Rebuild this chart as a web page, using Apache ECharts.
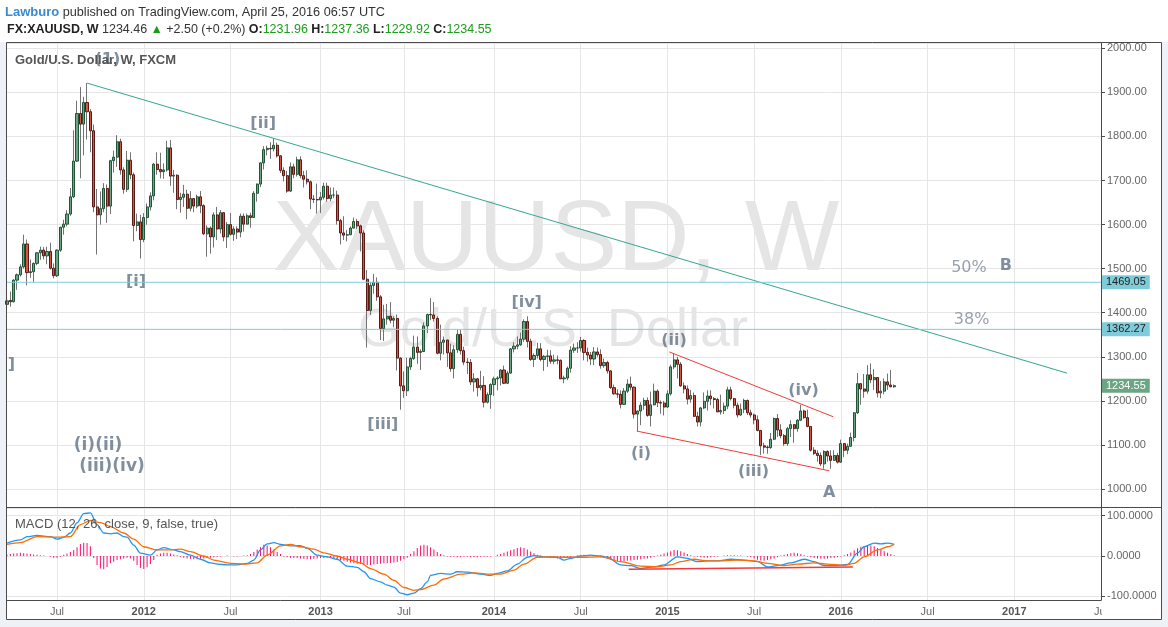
<!DOCTYPE html>
<html><head><meta charset="utf-8">
<script src="https://cdn.jsdelivr.net/npm/echarts@6/dist/echarts.min.js"></script>
<style>html,body{margin:0;padding:0;background:#eef1f5;}#c{width:1168px;height:627px;}</style>
</head><body><div id="c"></div>
<script>
// ---------- data (weekly FX:XAUUSD, weeks starting Monday 2011-03-21) ----------
const firstWeek = '2011-03-21';
const weekCount = 329; // axis runs to July 2017

const opens = [
1419,1428,1425,1474,1486,1504,1556,1491,1493,1512,
1536,1542,1529,1539,1501,1484,1542,1594,1601,1624,
1663,1744,1852,1828,1877,1856,1813,1640,1622,1636,
1682,1642,1745,1753,1788,1724,1680,1746,1713,1598,
1606,1566,1616,1640,1665,1737,1725,1720,1724,1774,
1710,1712,1657,1662,1669,1637,1659,1642,1663,1643,
1579,1592,1572,1622,1590,1627,1572,1600,1578,1590,
1583,1619,1601,1620,1616,1671,1692,1740,1770,1773,
1772,1780,1756,1723,1711,1676,1731,1714,1747,1711,
1703,1697,1658,1657,1656,1662,1687,1659,1667,1667,
1609,1581,1576,1577,1592,1607,1597,1581,1476,1405,
1462,1469,1436,1364,1386,1392,1383,1387,1297,1234,
1223,1277,1296,1322,1310,1312,1370,1396,1395,1387,
1308,1333,1338,1309,1273,1316,1351,1314,1288,1287,
1243,1250,1230,1235,1197,1214,1237,1250,1252,1270,
1240,1263,1318,1324,1327,1340,1380,1335,1294,1303,
1318,1294,1301,1302,1290,1293,1292,1250,1252,1274,
1315,1320,1320,1337,1310,1304,1295,1311,1305,1280,
1287,1268,1230,1216,1215,1192,1222,1238,1231,1170,
1177,1190,1201,1167,1191,1222,1196,1195,1186,1216,
1277,1293,1283,1234,1227,1204,1212,1165,1152,1184,
1199,1211,1205,1203,1175,1178,1188,1225,1205,1190,
1168,1181,1201,1173,1168,1157,1133,1098,1095,1094,
1113,1160,1134,1121,1103,1137,1146,1137,1156,1177,
1162,1142,1088,1081,1076,1057,1085,1075,1065,1076,
1061,1103,1088,1097,1117,1173,1239,1227,1222,1259,
1248,1253,1218,1222,1243,1236,1231.96];
const highs = [
1447,1448,1476,1489,1510,1577,1566,1521,1514,1537,
1550,1549,1550,1559,1512,1544,1595,1611,1633,1683,
1814,1881,1912,1890,1921,1862,1827,1681,1675,1694,
1691,1747,1768,1803,1795,1730,1767,1764,1718,1625,
1622,1626,1648,1673,1740,1764,1763,1739,1790,1792,
1724,1714,1672,1690,1679,1676,1660,1668,1676,1646,
1598,1596,1628,1640,1633,1628,1606,1626,1596,1596,
1625,1625,1625,1627,1676,1693,1741,1778,1779,1787,
1796,1786,1757,1730,1722,1741,1738,1754,1755,1722,
1723,1700,1667,1693,1674,1695,1695,1684,1684,1677,
1613,1619,1588,1596,1616,1613,1600,1587,1497,1470,
1488,1480,1440,1418,1420,1424,1392,1396,1299,1267,
1298,1300,1348,1346,1317,1378,1398,1433,1424,1392,
1373,1346,1339,1330,1326,1361,1362,1323,1297,1295,
1263,1252,1268,1256,1219,1240,1255,1256,1272,1280,
1268,1320,1333,1346,1355,1385,1392,1341,1308,1332,
1331,1304,1316,1315,1305,1303,1294,1257,1278,1324,
1330,1333,1345,1340,1321,1311,1322,1321,1317,1296,
1291,1270,1237,1226,1224,1229,1249,1255,1233,1178,
1197,1207,1208,1221,1239,1226,1201,1200,1224,1282,
1307,1300,1288,1242,1235,1225,1219,1175,1186,1219,
1224,1224,1209,1207,1214,1196,1232,1232,1207,1196,
1194,1205,1203,1180,1171,1167,1133,1105,1099,1127,
1162,1170,1147,1125,1141,1156,1147,1159,1191,1180,
1180,1142,1095,1088,1083,1088,1088,1088,1088,1082,
1112,1104,1103,1128,1174,1263,1240,1261,1281,1285,
1272,1253,1245,1251,1262,1270,1237.36];
const lows = [
1410,1414,1423,1452,1482,1500,1462,1479,1470,1508,
1520,1521,1510,1498,1478,1481,1538,1577,1596,1620,
1660,1742,1705,1757,1793,1764,1628,1532,1600,1628,
1604,1624,1718,1731,1713,1670,1674,1703,1562,1585,
1523,1560,1600,1632,1655,1713,1705,1704,1720,1688,
1672,1635,1627,1640,1612,1630,1628,1637,1626,1576,
1527,1534,1548,1565,1580,1562,1547,1575,1563,1567,
1571,1584,1600,1593,1615,1652,1685,1725,1757,1749,
1766,1752,1717,1698,1672,1674,1705,1709,1705,1684,
1691,1635,1649,1625,1626,1657,1652,1653,1660,1600,
1555,1565,1562,1576,1592,1590,1539,1474,1321,1395,
1443,1427,1338,1336,1373,1376,1367,1269,1180,1207,
1211,1270,1293,1284,1270,1311,1354,1383,1380,1306,
1292,1305,1277,1266,1251,1309,1305,1281,1261,1236,
1221,1210,1224,1185,1194,1182,1211,1224,1235,1238,
1238,1262,1310,1317,1325,1334,1321,1291,1277,1296,
1290,1268,1277,1284,1283,1283,1250,1240,1247,1264,
1309,1309,1312,1292,1289,1281,1281,1300,1273,1275,
1262,1227,1214,1206,1183,1191,1218,1224,1160,1131,
1145,1180,1164,1142,1190,1186,1171,1167,1184,1212,
1272,1251,1232,1217,1192,1196,1164,1142,1142,1181,
1178,1190,1183,1175,1169,1170,1181,1201,1183,1162,
1166,1172,1168,1162,1147,1131,1077,1080,1080,1091,
1111,1118,1115,1098,1098,1118,1105,1130,1154,1159,
1140,1085,1077,1062,1052,1046,1062,1046,1064,1058,
1059,1072,1079,1096,1108,1170,1191,1207,1216,1240,
1225,1208,1206,1215,1225,1231,1229.92];
const closes = [
1427,1425,1474,1486,1504,1556,1491,1493,1512,1536,
1542,1529,1539,1501,1484,1542,1594,1601,1624,1663,
1744,1852,1828,1877,1856,1813,1640,1622,1636,1682,
1642,1745,1753,1788,1724,1680,1746,1713,1598,1606,
1566,1616,1640,1665,1737,1725,1720,1724,1774,1710,
1712,1657,1662,1669,1637,1659,1642,1663,1643,1579,
1592,1572,1622,1590,1627,1572,1600,1578,1590,1583,
1619,1601,1620,1616,1671,1692,1740,1770,1773,1772,
1780,1756,1723,1711,1676,1731,1714,1747,1711,1703,
1697,1658,1657,1656,1662,1687,1659,1667,1667,1609,
1581,1576,1577,1592,1607,1597,1581,1476,1405,1462,
1469,1436,1364,1386,1392,1383,1387,1297,1234,1223,
1277,1296,1322,1310,1312,1370,1396,1395,1387,1308,
1333,1338,1309,1273,1316,1351,1314,1288,1287,1243,
1250,1230,1235,1197,1214,1237,1250,1252,1270,1240,
1263,1318,1324,1327,1340,1380,1335,1294,1303,1318,
1294,1301,1302,1290,1293,1292,1250,1252,1274,1315,
1320,1320,1337,1310,1304,1295,1311,1305,1280,1287,
1268,1230,1216,1215,1192,1222,1238,1231,1170,1177,
1190,1201,1167,1191,1222,1196,1195,1186,1216,1277,
1293,1283,1234,1227,1204,1212,1165,1152,1184,1199,
1211,1205,1203,1175,1178,1188,1225,1205,1190,1168,
1181,1201,1173,1168,1157,1133,1098,1095,1094,1113,
1160,1134,1121,1103,1137,1146,1137,1156,1177,1162,
1142,1088,1081,1076,1057,1085,1075,1065,1076,1061,
1103,1088,1097,1117,1173,1239,1227,1222,1259,1248,
1253,1218,1222,1243,1236,1232,1234.55];

// MACD (12, 26, close, 9): [week index, value]
const macdLine = [[0,32],[4,40],[6,48],[9,51],[13,48],[15,42],[17,46],[19,57],[21,82],[23,105],[25,107],[27,78],[29,57],[31,55],[33,57],[35,48],[36,47],[38,27],[40,7],[43,2],[45,15],[47,21],[50,15],[52,11],[55,2],[58,-8],[61,-17],[63,-20],[66,-22],[69,-22],[72,-18],[74,-10],[76,15],[78,30],[80,33],[82,29],[85,25],[88,26],[90,19],[93,2],[96,-2],[99,-8],[102,-25],[105,-28],[107,-39],[109,-56],[112,-64],[114,-72],[116,-77],[118,-92],[120,-96],[122,-92],[124,-81],[126,-64],[127,-48],[130,-43],[133,-45],[135,-39],[138,-40],[142,-45],[145,-48],[147,-43],[150,-37],[153,-20],[156,-3],[158,1],[161,-2],[165,-3],[167,-10],[169,-6],[172,0],[175,2],[178,0],[180,-3],[184,-22],[187,-24],[190,-31],[194,-27],[197,-22],[201,-2],[204,-6],[207,-14],[210,-12],[213,-12],[217,-8],[221,-10],[225,-14],[228,-27],[231,-24],[235,-17],[239,-8],[242,-14],[245,-24],[248,-24],[252,-21],[255,7],[257,23],[260,32],[262,30],[264,32],[266,29]];
const signalLine = [[0,29],[4,33],[9,48],[15,47],[19,48],[22,78],[25,88],[28,83],[31,73],[35,57],[38,42],[41,23],[45,15],[48,15],[52,17],[55,11],[59,0],[62,-10],[67,-18],[71,-20],[75,-17],[78,2],[82,25],[85,29],[88,23],[92,17],[95,8],[99,0],[102,-8],[106,-17],[109,-31],[113,-45],[116,-60],[119,-78],[122,-85],[124,-83],[128,-72],[131,-57],[136,-45],[140,-42],[145,-45],[148,-45],[152,-35],[155,-20],[159,-3],[163,-2],[168,-3],[172,-3],[178,-2],[184,-14],[190,-25],[195,-27],[199,-22],[202,-14],[206,-8],[210,-12],[215,-12],[219,-10],[224,-12],[228,-18],[233,-24],[237,-20],[242,-17],[246,-20],[251,-23],[254,-18],[257,-2],[261,15],[264,23],[266,29]];
const histogram = [
3,5,6,7,8,7,6,5,4,3,2,1,0,
-2,-4,-4,-2,
3,6,10,15,22,30,33,32,24,
-5,-22,-31,-33,-27,-18,-14,-10,-8,-6,-4,-6,
-12,-22,-30,-32,-28,-20,-10,
3,6,8,8,6,4,2,
-2,-4,-6,-7,-8,-8,-7,-6,-5,-4,-3,
-2,-1,0,1,0,-1,-1,0,1,
2,5,10,16,22,28,26,22,16,10,5,
-2,-3,-4,-5,-5,-6,-7,-8,-8,-7,-6,-5,-5,-4,
-5,-6,-8,-10,-12,-14,-16,-18,-19,-20,-21,-22,-22,-21,-20,-19,-18,-18,-17,-16,-15,-12,-8,-4,
5,12,20,26,28,26,22,16,10,5,2,
-1,-2,-2,-3,-3,-2,-2,-3,-3,-3,-2,-2,-2,-1,0,
3,5,8,11,14,17,20,22,20,16,11,7,3,1,
-2,-3,-4,-5,-6,-6,-5,-4,-3,-1,1,
2,3,2,1,0,-1,
-3,-5,-7,-9,-11,-13,-14,-13,-12,-11,-10,-9,-8,-7,-6,-4,
-2,1,3,6,9,12,15,14,12,9,5,2,
-1,-2,-3,-4,-4,-3,-2,-1,
0,1,2,2,2,1,1,0,-1,
-3,-6,-9,-11,-12,-10,-8,-6,-3,
1,3,5,7,8,7,5,2,
-1,-3,-5,-6,-7,-7,-6,-5,-4,-3,
-1,2,5,9,14,19,23,25,27,26,24,20,16,12,8,5,2];

// drawings (week index, price)
const fibLevels = [1469.05, 1362.27];
const lastPrice = 1234.55;
const tealTrend = [[24, 1921], [317.8, 1263]];
const wedgeUpper = [[198.6, 1311], [247.7, 1164]];
const wedgeLower = [[188.8, 1131.5], [246.5, 1041.5]];
const macdTrend = [[186.4, -33], [253.6, -27]];

const waveText  = ['[i]', '[ii]', '[iii]', '[iv]', '(i)', '(ii)', '(iii)', '(iv)', 'A', 'B', ']', '(1)'];
const waveWeek  = [38.7, 76.8, 112.7, 155.8, 190.1, 200, 223.8, 238.8, 246.5, 299.5, 1.3, 30.1];
const wavePrice = [1470, 1829, 1145, 1422.5, 1078.7, 1336, 1039, 1223, 991.6, 1506, 1281, 1973.5];
const bigWaveText  = ['(i)(ii)', '(iii)(iv)'];
const bigWaveWeek  = [27.3, 31.5];
const bigWavePrice = [1097.5, 1052];
const fibText  = ['50%', '38%'];
const fibWeek  = [288.4, 289.2];
const fibPrice = [1501, 1383];

const headerUser = 'Lawburo';
const headerRest = ' published on TradingView.com, April 25, 2016 06:57 UTC';
const quote = {sym: 'FX:XAUUSD, W', last: '1234.46', chg: '+2.50 (+0.2%)', o: '1231.96', h: '1237.36', l: '1229.92', c: '1234.55'};

// ---------- build ----------
const weeks = [];
const t0 = Date.parse(firstWeek + 'T00:00:00Z');
for (let i = 0; i < weekCount; i++) weeks.push(new Date(t0 + i * 7 * 86400000).toISOString().slice(0, 10));

function tickText(val) {
  const m = +val.slice(5, 7), d = +val.slice(8, 10);
  if (d <= 7 && m === 1) return '{y|' + val.slice(0, 4) + '}';
  if (d <= 7 && m === 7) return 'Jul';
  return '';
}
const isTick = (i, val) => tickText(val) !== '';

const wickData = opens.map((o, i) => [o, closes[i], lows[i], highs[i]]);
const bodyData = opens.map((o, i) => [o, closes[i], Math.min(o, closes[i]), Math.max(o, closes[i])]);
const pts = (xs, ys, names) => xs.map((x, i) => ({name: names[i], value: [x, ys[i]]}));
const lastWeek = weekCount - 1;

const FONT = '"Liberation Sans", Arial, sans-serif';
const WAVEFONT = '"DejaVu Sans", sans-serif';
const chart = echarts.init(document.getElementById('c'), null, {renderer: 'canvas'});
const gridLine = {color: '#e6e6e6', width: 1};
const hiddenMark = {symbol: 'circle', symbolSize: 1, itemStyle: {color: 'rgba(0,0,0,0)'}, silent: true};

function levelSeries(level, lineColor, boxColor, textColor) {
  return {type: 'line', xAxisIndex: 2, yAxisIndex: 0, symbol: 'none', silent: true, z: 8,
    data: [[0, level], [lastWeek, level]],
    lineStyle: {color: lineColor, width: 1},
    endLabel: {show: true, distance: 1, formatter: () => level.toFixed(2), color: textColor,
      backgroundColor: boxColor, padding: [2, 4, 1, 4], fontSize: 11, fontFamily: FONT}};
}

chart.setOption({
  animation: false,
  backgroundColor: 'transparent',
  textStyle: {fontFamily: FONT},
  grid: [
    {left: 7, top: 43, width: 1094, height: 464},
    {left: 7, top: 508, width: 1094, height: 92}
  ],
  xAxis: [
    {type: 'category', gridIndex: 0, data: weeks, boundaryGap: false,
     axisLine: {show: false, onZero: false}, axisTick: {show: false}, axisLabel: {show: false},
     splitLine: {show: true, interval: isTick, lineStyle: gridLine}},
    {type: 'category', gridIndex: 1, data: weeks, boundaryGap: false,
     axisLine: {show: true, onZero: false, lineStyle: {color: '#4a4a4a'}}, axisTick: {show: false},
     axisLabel: {interval: isTick, formatter: tickText, color: '#666', fontSize: 11, margin: 6,
                 fontFamily: FONT, rich: {y: {fontWeight: 'bold', color: '#555', fontSize: 11, fontFamily: FONT}}},
     splitLine: {show: true, interval: isTick, lineStyle: gridLine}},
    {type: 'value', gridIndex: 0, min: 0, max: lastWeek, show: false, axisLine: {onZero: false}, splitLine: {show: false}},
    {type: 'value', gridIndex: 1, min: 0, max: lastWeek, show: false, axisLine: {onZero: false}, splitLine: {show: false}}
  ],
  yAxis: [
    {type: 'value', gridIndex: 0, position: 'right', min: 959.2, max: 2012, splitNumber: 10, scale: true,
     axisLine: {show: true, onZero: false, lineStyle: {color: '#4a4a4a'}},
     axisTick: {show: true, length: 4, lineStyle: {color: '#4a4a4a'}},
     axisLabel: {color: '#666', fontSize: 11, margin: 6, showMinLabel: false, showMaxLabel: false,
                 formatter: v => v.toFixed(2)},
     splitLine: {show: true, lineStyle: gridLine}},
    {type: 'value', gridIndex: 1, position: 'right', min: -109, max: 119, splitNumber: 2, scale: true,
     axisLine: {show: true, onZero: false, lineStyle: {color: '#4a4a4a'}},
     axisTick: {show: true, length: 4, lineStyle: {color: '#4a4a4a'}},
     axisLabel: {color: '#666', fontSize: 11, margin: 6, showMinLabel: false, showMaxLabel: false,
                 formatter: v => v.toFixed(4)},
     splitLine: {show: true, lineStyle: gridLine}}
  ],
  graphic: [
    {type: 'rect', z: -10, shape: {x: 0, y: 0, width: 1168, height: 42}, style: {fill: '#ffffff'}},
    {type: 'rect', z: -10, shape: {x: 6, y: 42, width: 1156, height: 578}, style: {fill: '#ffffff'}},
    {type: 'text', z: -5, style: {text: 'XAUUSD, W', x: 556, y: 242, align: 'center', verticalAlign: 'middle',
      font: '100px ' + FONT, fill: '#e5e5e5'}},
    {type: 'text', z: -5, style: {text: 'Gold/U.S. Dollar', x: 553, y: 331, align: 'center', verticalAlign: 'middle',
      font: '54px ' + FONT, fill: '#e5e5e5'}},
    {type: 'rect', z: 50, shape: {x: 1102, y: 601, width: 59, height: 18}, style: {fill: '#ffffff'}},
    {type: 'rect', z: 60, shape: {x: 6.5, y: 42.5, width: 1155, height: 577}, style: {fill: null, stroke: '#4a4a4a', lineWidth: 1}},
    {type: 'line', z: 60, shape: {x1: 6.5, y1: 507.5, x2: 1161.5, y2: 507.5}, style: {stroke: '#4a4a4a', lineWidth: 1}},
    {type: 'text', z: 60, style: {x: 15, y: 60, verticalAlign: 'middle', text: 'Gold/U.S. Dollar, W, FXCM',
      font: 'bold 13px ' + FONT, fill: '#555'}},
    {type: 'text', z: 60, style: {x: 15, y: 524, verticalAlign: 'middle', text: 'MACD (12, 26, close, 9, false, true)',
      font: '13px ' + FONT, fill: '#555'}},
    {type: 'text', z: 60, style: {x: 5, y: 12, verticalAlign: 'middle',
      text: '{u|' + headerUser + '}{t|' + headerRest + '}',
      rich: {u: {fill: '#3a8bd1', font: 'bold 13px ' + FONT}, t: {fill: '#333', font: '12.7px ' + FONT}}}},
    {type: 'text', z: 60, style: {x: 7, y: 30, verticalAlign: 'middle',
      text: '{b|' + quote.sym + '} {t|' + quote.last + '} {g|▲} {t|' + quote.chg + '} {b|O:}{v|' + quote.o +
            '} {b|H:}{v|' + quote.h + '} {b|L:}{v|' + quote.l + '} {b|C:}{v|' + quote.c + '}',
      rich: {b: {fill: '#222', font: 'bold 12.5px ' + FONT}, t: {fill: '#333', font: '12.5px ' + FONT},
             g: {fill: '#1a9e1a', font: '12.5px ' + FONT}, v: {fill: '#1a9e1a', font: '12.5px ' + FONT}}}}
  ],
  series: [
    {type: 'candlestick', name: 'wick', xAxisIndex: 0, yAxisIndex: 0, data: wickData, barWidth: 1, z: 3,
     itemStyle: {color: '#737375', color0: '#737375', borderColor: '#737375', borderColor0: '#737375', borderWidth: 1}},
    {type: 'candlestick', name: 'body', xAxisIndex: 0, yAxisIndex: 0, data: bodyData, barWidth: 2.6, z: 4,
     itemStyle: {color: '#6ba583', color0: '#d75442', borderColor: '#225437', borderColor0: '#5b1a13', borderWidth: 1}},
    levelSeries(fibLevels[0], '#80cbd9', '#80cbd9', '#222'),
    levelSeries(fibLevels[1], '#80cbd9', '#80cbd9', '#222'),
    levelSeries(lastPrice, 'rgba(0,0,0,0)', '#6ba583', '#fff'),
    {type: 'line', xAxisIndex: 2, yAxisIndex: 0, data: tealTrend, symbol: 'none', z: 5, silent: true,
     lineStyle: {color: '#36a593', width: 1}},
    {type: 'line', xAxisIndex: 2, yAxisIndex: 0, data: wedgeUpper, symbol: 'none', z: 5, silent: true,
     lineStyle: {color: '#f23a3a', width: 1}},
    {type: 'line', xAxisIndex: 2, yAxisIndex: 0, data: wedgeLower, symbol: 'none', z: 5, silent: true,
     lineStyle: {color: '#f23a3a', width: 1}},
    Object.assign({type: 'scatter', xAxisIndex: 2, yAxisIndex: 0, z: 7,
     data: pts(waveWeek, wavePrice, waveText),
     label: {show: true, position: 'inside', formatter: '{b}', color: '#627384', fontSize: 16, fontWeight: 'bold',
             fontFamily: WAVEFONT}}, hiddenMark),
    Object.assign({type: 'scatter', xAxisIndex: 2, yAxisIndex: 0, z: 7,
     data: pts(bigWaveWeek, bigWavePrice, bigWaveText),
     label: {show: true, position: 'inside', formatter: '{b}', color: '#627384', fontSize: 17, fontWeight: 'bold',
             fontFamily: WAVEFONT}}, hiddenMark),
    Object.assign({type: 'scatter', xAxisIndex: 2, yAxisIndex: 0, z: 7,
     data: pts(fibWeek, fibPrice, fibText),
     label: {show: true, position: 'inside', formatter: '{b}', color: '#7d8b99', fontSize: 16,
             fontFamily: WAVEFONT}}, hiddenMark),
    {type: 'bar', xAxisIndex: 1, yAxisIndex: 1, data: histogram, barWidth: 1, z: 3, silent: true,
     itemStyle: {color: '#ff0a6c'}},
    {type: 'line', xAxisIndex: 3, yAxisIndex: 1, data: macdLine, smooth: 0.3, smoothMonotone: 'x', symbol: 'none', z: 4,
     silent: true, lineStyle: {color: '#2196f3', width: 1.3}},
    {type: 'line', xAxisIndex: 3, yAxisIndex: 1, data: signalLine, smooth: 0.3, smoothMonotone: 'x', symbol: 'none', z: 4,
     silent: true, lineStyle: {color: '#ff6d00', width: 1.3}},
    {type: 'line', xAxisIndex: 3, yAxisIndex: 1, data: macdTrend, symbol: 'none', z: 5, silent: true,
     lineStyle: {color: '#f23a3a', width: 1.5}}
  ]
});
</script></body></html>
